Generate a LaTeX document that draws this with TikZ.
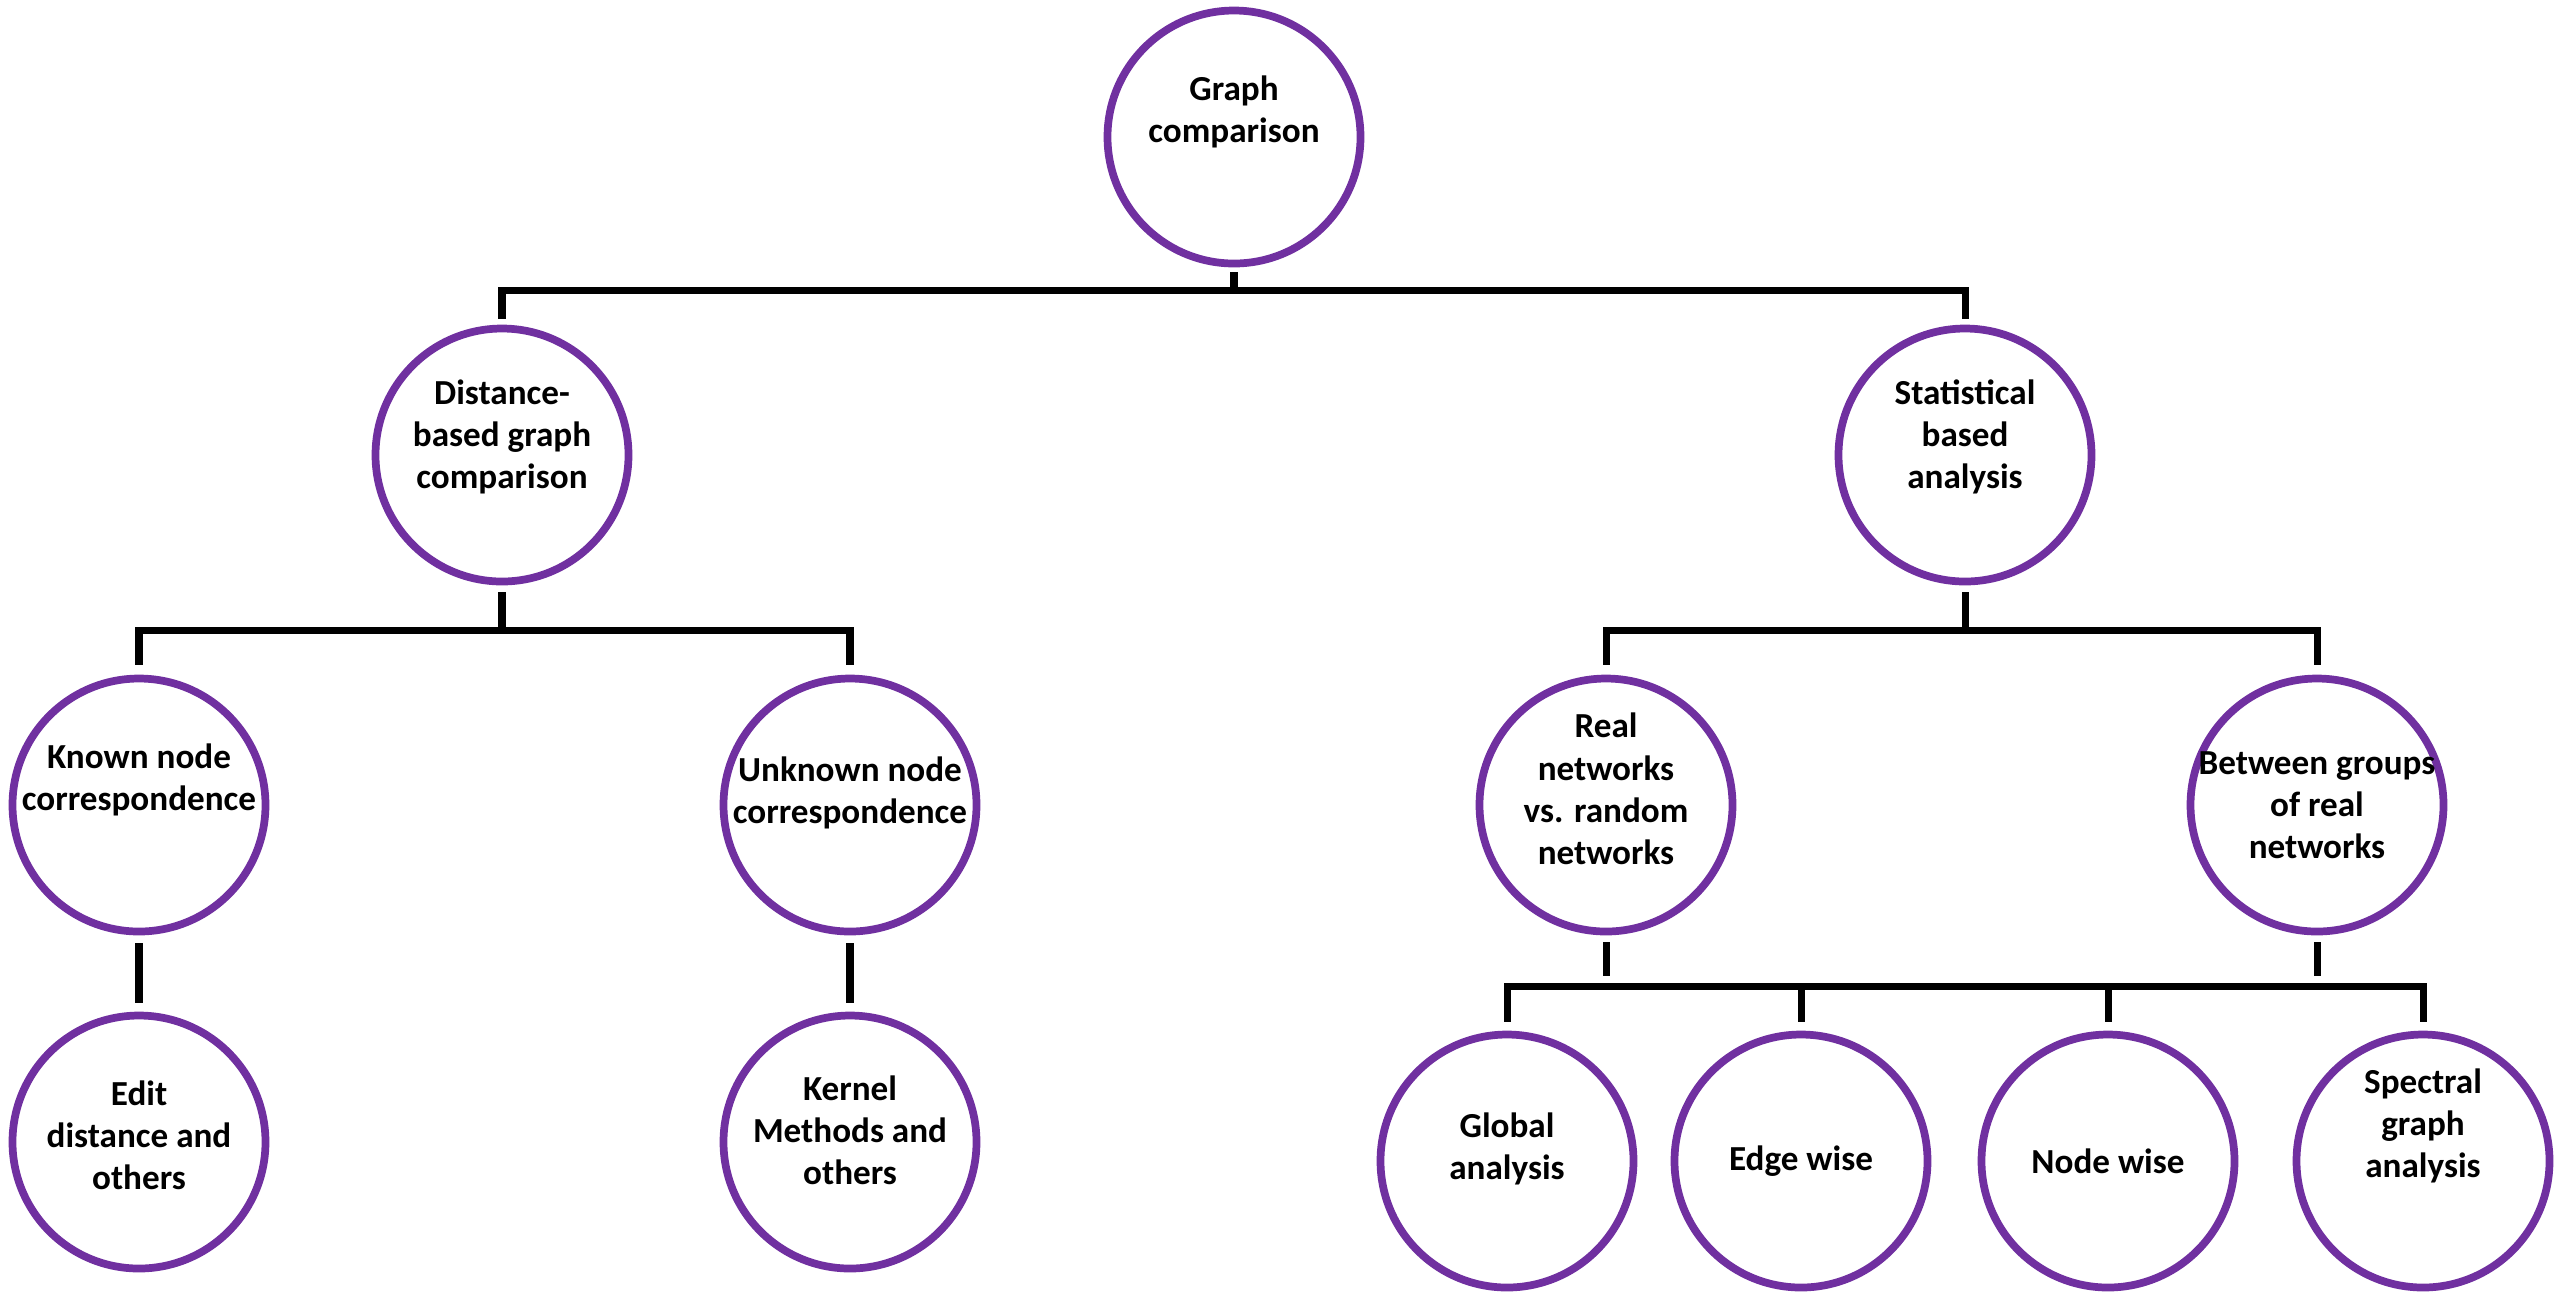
\documentclass[tikz,border=0pt]{standalone}
\usepackage{fontspec}
\setmainfont{Carlito}
\usepackage{xcolor}
\usepackage{tikz}
\usetikzlibrary{calc}
\definecolor{accentpurple}{HTML}{7030A0}

\begin{document}
\begin{tikzpicture}[
  topic/.style={circle, draw=accentpurple, line width=2.2pt, minimum size=2.53cm, inner sep=0pt},
  caption/.style={align=center, font=\bfseries\fontsize{10}{12}\selectfont, inner sep=0pt},
  link/.style={line width=2pt}]
  % page frame: 1px of the source image = 0.01cm
  \useasboundingbox (0,0) rectangle (25.6,-12.92);
  % heights of the three bars
  \def\barA{-2.90} \def\barB{-6.30} \def\barC{-9.86}
  \coordinate (busA) at (0,\barA);
  \coordinate (busB) at (0,\barB);
  \coordinate (busC) at (0,\barC);

  % circles, level by level
  \node[topic] (root)     at (12.34,-1.37) {};
  \node[topic] (dist)     at (5.02,-4.55)  {};
  \node[topic] (stat)     at (19.65,-4.55) {};
  \node[topic] (known)    at (1.39,-8.05)  {};
  \node[topic] (unknown)  at (8.50,-8.05)  {};
  \node[topic] (real)     at (16.06,-8.05) {};
  \node[topic] (between)  at (23.17,-8.05) {};
  \node[topic] (edit)     at (1.39,-11.42) {};
  \node[topic] (kernel)   at (8.50,-11.42) {};
  \node[topic] (global)   at (15.07,-11.61) {};
  \node[topic] (edge)     at (18.01,-11.61) {};
  \node[topic] (nodew)    at (21.08,-11.61) {};
  \node[topic] (spectral) at (24.23,-11.61) {};

  % captions, most sit a bit above the centre
  \node[caption] (rootT)     at ([yshift=2.5mm]root.center)     {Graph\\comparison};
  \node[caption] (distT)     at ([yshift=1.8mm]dist.center)     {Distance-\\based graph\\comparison};
  \node[caption] (statT)     at ([yshift=1.8mm]stat.center)     {Statistical\\based\\analysis};
  \node[caption] (knownT)    at ([yshift=2.5mm]known.center)    {Known node\\correspondence};
  \node[caption] (unknownT)  at ([yshift=1.2mm]unknown.center)  {Unknown node\\correspondence};
  \node[caption] (realT)     at ([yshift=1.6mm]real.center)     {Real\\networks\\vs. random\\networks};
  \node[caption] (betweenT)  at (between.center)                {Between groups\\of real\\networks};
  \node[caption] (editT)     at ([yshift=0.7mm]edit.center)     {Edit\\distance and\\others};
  \node[caption] (kernelT)   at ([yshift=1.2mm]kernel.center)   {Kernel\\Methods and\\others};
  \node[caption] (globalT)   at ([yshift=1.2mm]global.center)   {Global\\analysis};
  \node[caption] (edgeT)     at (edge.center)                   {Edge wise};
  \node[caption] (nodewT)    at (nodew.center)                  {Node wise};
  \node[caption] (spectralT) at ([yshift=3.5mm]spectral.center) {Spectral\\graph\\analysis};

  % top split
  \draw[link] ([yshift=-0.5mm]root.south) -- (root.south |- busA);
  \draw[link] ([yshift=0.6mm]dist.north) -- (dist.north |- busA) -- (stat.north |- busA) -- ([yshift=0.6mm]stat.north);
  % left branch
  \draw[link] ([yshift=-0.7mm]dist.south) -- (dist.south |- busB);
  \draw[link] ([yshift=1mm]known.north) -- (known.north |- busB) -- (unknown.north |- busB) -- ([yshift=1mm]unknown.north);
  \draw[link] ([yshift=-0.8mm]known.south) -- ([yshift=0.9mm]edit.north);
  \draw[link] ([yshift=-0.8mm]unknown.south) -- ([yshift=0.9mm]kernel.north);
  % right branch
  \draw[link] ([yshift=-0.7mm]stat.south) -- (stat.south |- busB);
  \draw[link] ([yshift=1mm]real.north) -- (real.north |- busB) -- (between.north |- busB) -- ([yshift=1mm]between.north);
  \draw[link] ([yshift=-0.7mm]real.south) -- ([yshift=1mm]real.south |- busC);
  \draw[link] ([yshift=-0.7mm]between.south) -- ([yshift=1mm]between.south |- busC);
  \draw[link] ([yshift=0.9mm]global.north) -- (global.north |- busC) -- (spectral.north |- busC) -- ([yshift=0.9mm]spectral.north);
  \draw[link] (edge.north |- busC) -- ([yshift=0.9mm]edge.north);
  \draw[link] (nodew.north |- busC) -- ([yshift=0.9mm]nodew.north);
\end{tikzpicture}
\end{document}
